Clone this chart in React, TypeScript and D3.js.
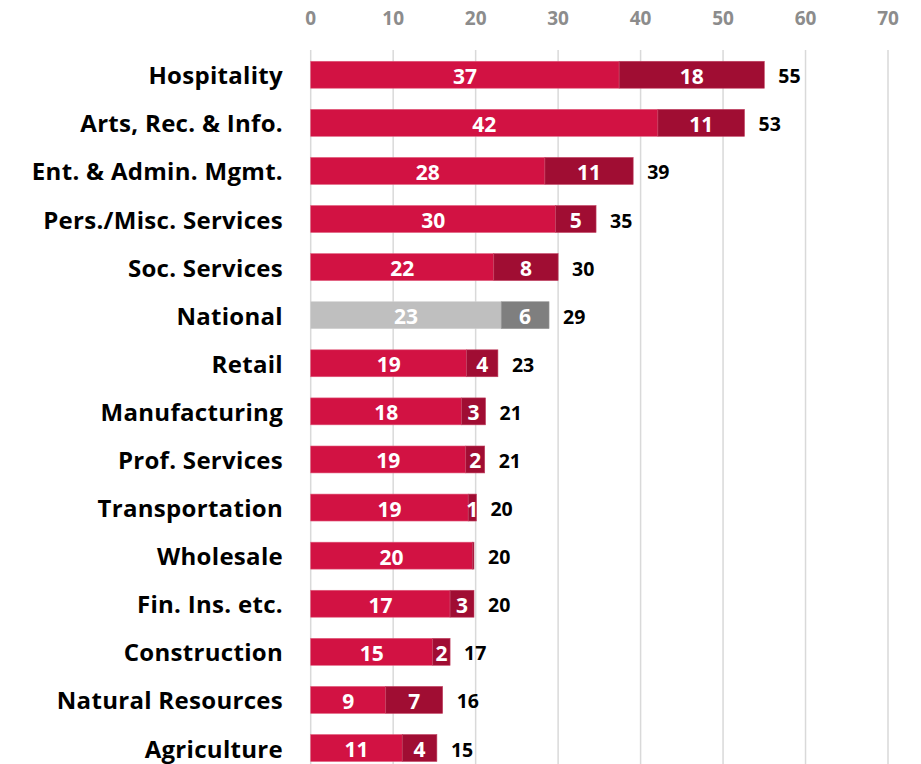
import React from "react";
import * as d3 from "d3";

const categories = [
  "Hospitality",
  "Arts, Rec. & Info.",
  "Ent. & Admin. Mgmt.",
  "Pers./Misc. Services",
  "Soc. Services",
  "National",
  "Retail",
  "Manufacturing",
  "Prof. Services",
  "Transportation",
  "Wholesale",
  "Fin. Ins. etc.",
  "Construction",
  "Natural Resources",
  "Agriculture",
];
const seriesA = [37.4, 42.1, 28.4, 29.7, 22.2, 23.1, 18.9, 18.3, 18.8, 19.1, 19.6, 16.9, 14.8, 9.1, 11.1];
const seriesB = [17.6, 10.5, 10.7, 4.9, 7.8, 5.8, 3.8, 2.9, 2.3, 1.0, 0.2, 2.9, 2.1, 6.9, 4.2];
const xTicks = [0, 10, 20, 30, 40, 50, 60, 70];

const W = 921;
const H = 764;
const FONT = "'Open Sans', Lato, sans-serif";

export default function App() {
  const x = d3.scaleLinear().domain([0, 70]).range([310.7, 888]);
  const y = d3
    .scaleBand<string>()
    .domain(categories)
    .range([50.7, 50.7 + 48.09 * 15])
    .paddingInner(0.44)
    .paddingOuter(0.22);
  const bh = y.bandwidth();

  return (
    <svg
      width={W}
      height={H}
      style={{ position: "absolute", left: 0, top: 0, background: "#fff" }}
    >
      {xTicks.map((t) => (
        <g key={t}>
          <line x1={x(t)} x2={x(t)} y1={50} y2={H} stroke="#d9d9d9" strokeWidth={1.5} />
          <text
            x={x(t)}
            y={18}
            textAnchor="middle"
            dominantBaseline="central"
            fontFamily={FONT}
            fontWeight={700}
            fontSize={19}
            fill="#8c8c8c"
          >
            {t}
          </text>
        </g>
      ))}
      {categories.map((c, i) => {
        const y0 = y(c)!;
        const cy = y0 + bh / 2;
        const nat = c === "National";
        const colA = nat ? "#bfbfbf" : "#d21243";
        const colB = nat ? "#7f7f7f" : "#a00d33";
        const a = seriesA[i];
        const b = seriesB[i];
        const lb = Math.round(b);
        return (
          <g key={c}>
            <text
              x={283}
              y={cy}
              textAnchor="end"
              dominantBaseline="central"
              fontFamily={FONT}
              fontWeight={700}
              fontSize={24}
              letterSpacing={0.3}
              fill="#000"
            >
              {c}
            </text>
            <rect
              x={x(0)}
              y={y0}
              width={x(a) - x(0)}
              height={bh}
              fill={colA}
              stroke={nat ? "#d0d0d0" : "#e05a7a"}
              strokeWidth={0.6}
            />
            <rect
              x={x(a)}
              y={y0}
              width={x(a + b) - x(a)}
              height={bh}
              fill={colB}
              stroke={nat ? "#999" : "#c04060"}
              strokeWidth={0.6}
            />
            <text
              x={(x(0) + x(a)) / 2}
              y={cy + 1}
              textAnchor="middle"
              dominantBaseline="central"
              fontFamily={FONT}
              fontWeight={700}
              fontSize={21}
              fill="#fff"
            >
              {Math.round(a)}
            </text>
            {lb > 0 && (
              <text
                x={(x(a) + x(a + b)) / 2}
                y={cy + 1}
                textAnchor="middle"
                dominantBaseline="central"
                fontFamily={FONT}
                fontWeight={700}
                fontSize={21}
                fill="#fff"
              >
                {lb}
              </text>
            )}
            <text
              x={x(a + b) + 14}
              y={cy + 1}
              textAnchor="start"
              dominantBaseline="central"
              fontFamily={FONT}
              fontWeight={700}
              fontSize={19.5}
              fill="#000"
            >
              {Math.round(a + b)}
            </text>
          </g>
        );
      })}
    </svg>
  );
}
